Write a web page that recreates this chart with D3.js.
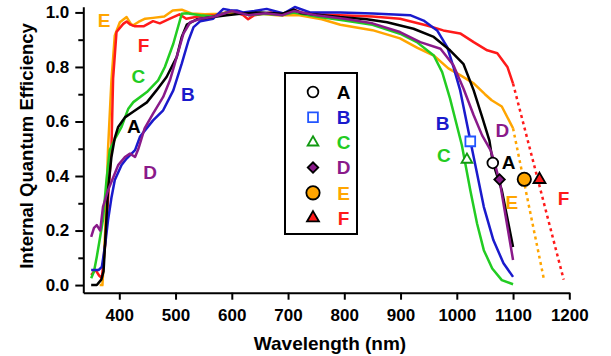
<!DOCTYPE html>
<html><head><meta charset="utf-8">
<script src="https://cdn.jsdelivr.net/npm/d3@7"></script>
<style>
html,body{margin:0;padding:0;background:#fff;}
svg{display:block;font-family:"Liberation Sans",Arial,sans-serif;}
</style></head>
<body><svg id="chart" width="611" height="356"></svg>
<script>
// ---------- data ----------
const seriesNames = ["A","B","C","D","E","F"];
const xTicks = [400,500,600,700,800,900,1000,1100,1200];
const yTicks = [0.0,0.2,0.4,0.6,0.8,1.0];
const yMinorTicks = [0.1,0.3,0.5,0.7,0.9];

const curveA = [[350,0.0],[360,0.0],[368,0.02],[372,0.05],[380,0.35],[386,0.47],[392,0.54],[398,0.58],[410,0.615],[424,0.635],[449,0.67],[466,0.714],[484,0.763],[502,0.836],[511,0.91],[520,0.955],[538,0.975],[567,0.983],[591,0.99],[615,0.995],[650,1.0],[690,0.995],[710,1.01],[722,0.998],[760,0.99],[792,0.983],[840,0.975],[876,0.964],[923,0.94],[959,0.91],[988,0.861],[1012,0.81],[1030,0.714],[1045,0.617],[1058,0.53],[1064,0.45],[1080,0.348],[1100,0.14]];
const curveB = [[350,0.055],[363,0.055],[369,0.067],[375,0.15],[380,0.238],[386,0.32],[392,0.385],[404,0.44],[413,0.464],[428,0.495],[437,0.545],[460,0.604],[478,0.641],[496,0.714],[511,0.812],[523,0.897],[532,0.946],[544,0.968],[567,0.977],[585,1.013],[597,1.008],[609,1.007],[620,1.0],[640,1.005],[662,1.013],[692,0.996],[712,1.02],[739,1.0],[793,1.0],[851,0.996],[917,0.99],[941,0.97],[965,0.934],[983,0.873],[994,0.8],[1006,0.714],[1018,0.592],[1024,0.53],[1036,0.409],[1048,0.287],[1065,0.165],[1083,0.08],[1100,0.03]];
const curveC = [[350,0.025],[355,0.05],[360,0.104],[366,0.177],[371,0.24],[377,0.38],[383,0.495],[392,0.535],[404,0.58],[416,0.647],[425,0.671],[449,0.708],[469,0.751],[481,0.8],[496,0.885],[511,0.995],[520,0.997],[544,0.99],[567,0.985],[600,1.005],[630,0.99],[660,0.995],[690,0.99],[710,1.0],[750,0.985],[800,0.97],[850,0.955],[899,0.922],[929,0.891],[959,0.842],[974,0.781],[988,0.684],[1000,0.586],[1009,0.513],[1024,0.348],[1036,0.226],[1048,0.128],[1063,0.061],[1080,0.018],[1100,0.003]];
const curveD = [[350,0.177],[355,0.21],[360,0.22],[366,0.2],[371,0.287],[380,0.348],[392,0.409],[398,0.44],[410,0.47],[419,0.482],[428,0.47],[434,0.5],[445,0.575],[460,0.629],[478,0.69],[490,0.751],[502,0.836],[514,0.922],[526,0.964],[544,0.977],[570,0.985],[600,1.005],[630,0.99],[660,0.997],[690,0.99],[710,1.005],[750,0.99],[800,0.977],[850,0.96],[899,0.928],[935,0.891],[971,0.867],[994,0.806],[1012,0.72],[1030,0.623],[1045,0.549],[1060,0.495],[1066,0.458],[1077,0.372],[1089,0.226],[1100,0.092]];
const curveE = [[365,0.0],[370,0.0],[375,0.2],[380,0.5],[386,0.75],[392,0.916],[401,0.964],[413,0.983],[420,0.96],[424,0.952],[434,0.965],[446,0.977],[460,0.98],[480,0.985],[495,1.007],[511,1.01],[528,0.996],[552,0.993],[580,0.995],[610,1.0],[640,0.998],[680,0.99],[720,0.99],[760,0.975],[793,0.955],[850,0.935],[899,0.905],[930,0.87],[959,0.842],[985,0.795],[1006,0.77],[1030,0.74],[1050,0.7],[1062,0.678],[1080,0.655],[1100,0.575]];
const curveF = [[350,0.037],[355,0.05],[358,0.055],[364,0.035],[369,0.026],[375,0.15],[381,0.35],[386,0.5],[389,0.758],[395,0.928],[407,0.958],[413,0.967],[420,0.955],[428,0.949],[443,0.949],[460,0.968],[472,0.96],[490,0.977],[507,0.993],[519,0.977],[540,0.985],[570,0.99],[600,1.005],[620,0.99],[629,0.975],[640,0.99],[670,1.0],[691,0.99],[710,1.01],[730,0.995],[793,0.99],[850,0.985],[899,0.977],[947,0.952],[976,0.934],[1006,0.923],[1030,0.891],[1054,0.861],[1072,0.85],[1090,0.8],[1100,0.739]];
const extrapE = [[1100,0.575],[1155,0.02]];
const extrapF = [[1100,0.739],[1190,0.02]];

// marker points [wavelength, value]
const markerPoints = [[1064,0.448],[1024,0.527],[1018,0.46],[1076,0.387],[1120,0.388],[1147,0.387]];
// curve label anchors [wavelength, value]
const leftLabelAnchors = [[426,0.582],[522,0.700],[434,0.766],[455,0.414],[373,0.971],[443,0.879]];
const rightLabelAnchors = [[1092,0.451],[975,0.593],[977,0.476],[1081,0.568],[1098,0.304],[1190,0.319]];

// ---------- styles ----------
const lineColors = {A:"#000000",B:"#1a1acc",C:"#22cc22",D:"#8a1a8a",E:"#ffa500",F:"#ff1a1a"};
const markerStyle = [
  {type:d3.symbolCircle, size:90, fill:"#fff", stroke:"#000", rot:0},
  {type:d3.symbolSquare, size:95, fill:"#fff", stroke:"#2255ff", rot:0},
  {type:d3.symbolTriangle, size:50, fill:"#fff", stroke:"#119911", rot:0},
  {type:d3.symbolSquare, size:55, fill:"#8a1a8a", stroke:"#000", rot:45},
  {type:d3.symbolCircle, size:140, fill:"#ffa500", stroke:"#000", rot:0},
  {type:d3.symbolTriangle, size:62, fill:"#ff1a1a", stroke:"#000", rot:0}
];

const svg = d3.select("#chart");
const x = d3.scaleLinear().domain([336,1200]).range([83.3,569.3]);
const y = d3.scaleLinear().domain([-0.028,1.021]).range([292.7,6.7]);

// axes
svg.append("g").attr("transform",`translate(0,${y.range()[0]})`)
  .call(d3.axisBottom(x).tickValues(xTicks).tickSize(7).tickSizeOuter(0).tickPadding(9).tickFormat(d3.format("d")));
svg.append("g").attr("transform",`translate(${x.range()[0]},0)`)
  .call(d3.axisLeft(y).tickValues(yTicks).tickSize(8).tickSizeOuter(0).tickPadding(6).tickFormat(d3.format(".1f")));
svg.append("g").attr("transform",`translate(${x.range()[0]},0)`)
  .call(d3.axisLeft(y).tickValues(yMinorTicks).tickSize(5).tickSizeOuter(0).tickFormat(""))
  .call(g=>g.select(".domain").remove());
svg.selectAll(".domain").attr("stroke","#000").attr("stroke-width",2);
svg.selectAll(".tick line").attr("stroke","#000").attr("stroke-width",2);
svg.selectAll(".tick text").attr("font-size",17).attr("font-weight","bold").attr("fill","#000")
  .attr("font-family","'Liberation Sans',Arial,sans-serif");

svg.append("text").attr("x",330).attr("y",350).attr("text-anchor","middle")
  .attr("font-size",19).attr("font-weight","bold").text("Wavelength (nm)");
svg.append("text").attr("transform","translate(33,146) rotate(-90)").attr("text-anchor","middle")
  .attr("font-size",18.5).attr("font-weight","bold").text("Internal Quantum Efficiency");

// curves
const line = d3.line().x(d=>x(d[0])).y(d=>y(d[1]));
const curves = [curveA,curveB,curveC,curveD,curveE,curveF];
const drawOrder = [4,5,2,1,0,3];
drawOrder.forEach(i=>{
  svg.append("path").datum(curves[i]).attr("d",line).attr("fill","none")
    .attr("stroke",lineColors[seriesNames[i]]).attr("stroke-width",2.5).attr("stroke-linejoin","round");
});
[[extrapE,"E"],[extrapF,"F"]].forEach(([d,n])=>{
  svg.append("path").datum(d).attr("d",line).attr("fill","none")
    .attr("stroke",lineColors[n]).attr("stroke-width",2.5).attr("stroke-dasharray","3,3.5");
});

// markers
function marker(g,s,tx,ty){
  g.append("path").attr("d",d3.symbol().type(s.type).size(s.size)())
    .attr("transform",`translate(${tx},${ty}) rotate(${s.rot})`)
    .attr("fill",s.fill).attr("stroke",s.stroke).attr("stroke-width",1.8);
}
markerPoints.forEach((p,i)=>marker(svg,markerStyle[i],x(p[0]),y(p[1])));

// curve labels
function labels(anchors){
  anchors.forEach((p,i)=>{
    svg.append("text").attr("x",x(p[0])).attr("y",y(p[1])).attr("dy","0.36em")
      .attr("text-anchor","middle").attr("font-size",19).attr("font-weight","bold")
      .attr("fill",lineColors[seriesNames[i]]).text(seriesNames[i]);
  });
}
labels(leftLabelAnchors);
labels(rightLabelAnchors);

// legend
const lg = svg.append("g");
lg.append("rect").attr("x",285).attr("y",73).attr("width",72).attr("height",161)
  .attr("fill","#fff").attr("stroke","#000").attr("stroke-width",2);
seriesNames.forEach((n,i)=>{
  const yy = 92 + i*25.2;
  marker(lg,markerStyle[i],313,yy);
  lg.append("text").attr("x",343.5).attr("y",yy).attr("dy","0.36em").attr("text-anchor","middle")
    .attr("font-size",19).attr("font-weight","bold").attr("fill",lineColors[n]).text(n);
});
</script></body></html>
